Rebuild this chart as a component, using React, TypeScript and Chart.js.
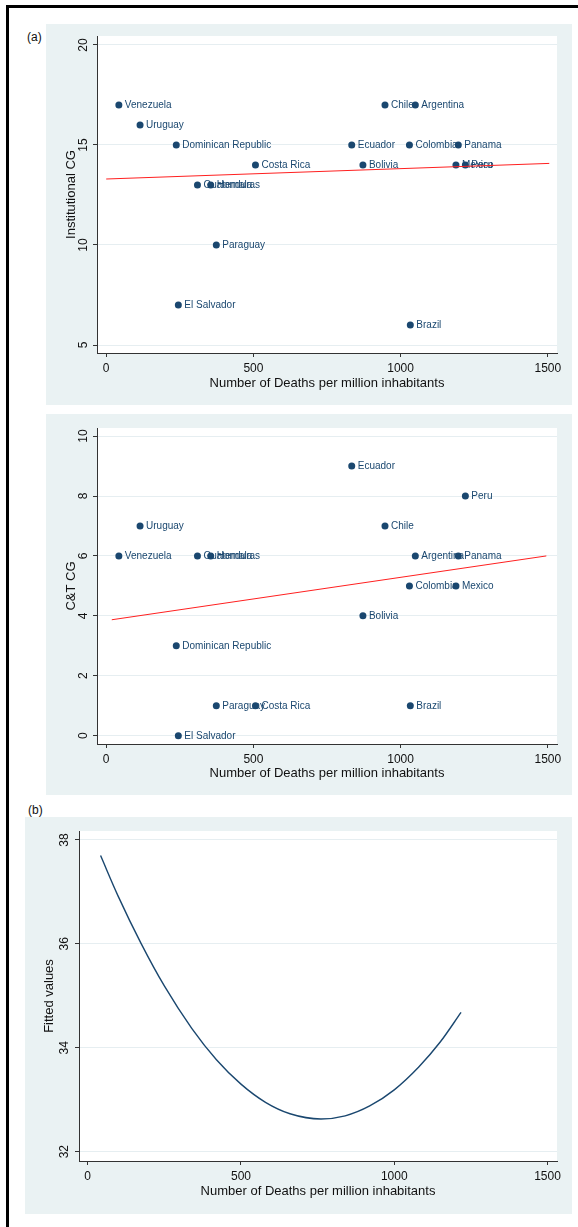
import React, { useEffect, useRef } from "react";
import { Chart, registerables } from "chart.js";

Chart.register(...registerables);

// ---------- data ----------
const countries = [
  "Venezuela", "Uruguay", "Dominican Republic", "El Salvador", "Guatemala", "Honduras",
  "Paraguay", "Costa Rica", "Ecuador", "Bolivia", "Chile", "Colombia", "Brazil",
  "Argentina", "Mexico", "Panama", "Peru",
];
const deaths = [43, 115, 238, 245, 310, 355, 374, 507, 834, 872, 947, 1030, 1033, 1050, 1188, 1196, 1220];
const institutionalCG = [17, 16, 15, 7, 13, 13, 10, 14, 15, 14, 17, 15, 6, 17, 14, 15, 14];
const ctCG = [6, 7, 3, 0, 6, 6, 1, 1, 9, 4, 7, 5, 1, 6, 5, 6, 8];

const instFitX = [0, 1505];
const instFitY = [13.3, 14.08];
const ctFitX = [19, 1495];
const ctFitY = [3.87, 6.0];

const fittedX = [42, 100, 174, 250, 340, 420, 500, 580, 660, 761, 840, 920, 1000, 1080, 1150, 1218];
const fittedY = [37.7, 36.91, 36.01, 35.19, 34.37, 33.77, 33.3, 32.95, 32.73, 32.63, 32.69, 32.88, 33.19, 33.63, 34.11, 34.68];

const xTicks = [0, 500, 1000, 1500];
const instTicks = [5, 10, 15, 20];
const ctTicks = [0, 2, 4, 6, 8, 10];
const fittedTicks = [32, 34, 36, 38];

const xTitle = "Number of Deaths per million inhabitants";

// ---------- styles ----------
const FONT = '"Liberation Sans", Arial, Helvetica, sans-serif';
const NAVY = "#1a476f";
const BG = "#eaf2f3";
const GRID = "#e6eef1";
const AXIS = "#333333";

type PanelCfg = {
  width: number;
  height: number;
  padding: { left: number; top: number; right: number; bottom: number };
  xMin: number;
  xMax: number;
  yMin: number;
  yMax: number;
  yTicks: number[];
  yTitle: string;
  yTickOff: number;
  yTitleOff: number;
  xTickOff: number;
  xTitleOff: number;
  datasets: any[];
  labels?: string[];
};

function buildChart(canvas: HTMLCanvasElement, cfg: PanelCfg) {
  const areaPlugin = {
    id: "plotArea",
    beforeDraw(chart: any) {
      const { ctx, chartArea: a } = chart;
      ctx.save();
      ctx.fillStyle = "#ffffff";
      ctx.fillRect(a.left, a.top, a.right - a.left, a.bottom - a.top);
      ctx.restore();
    },
  };

  const pointLabelPlugin = {
    id: "pointLabels",
    beforeDatasetsDraw(chart: any) {
      if (!cfg.labels) return;
      const { ctx } = chart;
      const meta = chart.getDatasetMeta(0);
      ctx.save();
      ctx.font = `10px ${FONT}`;
      ctx.fillStyle = NAVY;
      ctx.textAlign = "left";
      ctx.textBaseline = "middle";
      meta.data.forEach((el: any, i: number) => {
        ctx.fillText(cfg.labels![i], el.x + 6, el.y + 0.5);
      });
      ctx.restore();
    },
  };

  const textPlugin = {
    id: "axisTexts",
    afterDraw(chart: any) {
      const { ctx, chartArea: a } = chart;
      const xs = chart.scales.x;
      const ys = chart.scales.y;
      ctx.save();
      ctx.fillStyle = "#111111";
      // y tick labels, rotated
      ctx.font = `12px ${FONT}`;
      ctx.textAlign = "center";
      ctx.textBaseline = "alphabetic";
      cfg.yTicks.forEach((v) => {
        const py = ys.getPixelForValue(v);
        ctx.save();
        ctx.translate(a.left - cfg.yTickOff, py);
        ctx.rotate(-Math.PI / 2);
        ctx.fillText(String(v), 0, 0);
        ctx.restore();
      });
      // y title
      ctx.font = `13px ${FONT}`;
      ctx.save();
      ctx.translate(a.left - cfg.yTitleOff, (a.top + a.bottom) / 2);
      ctx.rotate(-Math.PI / 2);
      ctx.fillText(cfg.yTitle, 0, 0);
      ctx.restore();
      // x tick labels
      ctx.font = `12px ${FONT}`;
      xTicks.forEach((v) => {
        const px = xs.getPixelForValue(v);
        ctx.fillText(String(v), px, a.bottom + cfg.xTickOff);
      });
      // x title
      ctx.font = `13px ${FONT}`;
      ctx.fillText(xTitle, (a.left + a.right) / 2, a.bottom + cfg.xTitleOff);
      ctx.restore();
    },
  };

  return new Chart(canvas, {
    type: "scatter",
    data: { datasets: cfg.datasets },
    options: {
      animation: false,
      responsive: false,
      maintainAspectRatio: false,
      events: [],
      layout: { padding: cfg.padding, autoPadding: false },
      plugins: {
        legend: { display: false },
        tooltip: { enabled: false },
        title: { display: false },
      },
      scales: {
        x: {
          type: "linear",
          min: cfg.xMin,
          max: cfg.xMax,
          afterBuildTicks: (s: any) => {
            s.ticks = xTicks.map((v) => ({ value: v }));
          },
          afterFit: (s: any) => {
            s.height = 0;
          },
          ticks: { display: false },
          grid: {
            drawOnChartArea: false,
            drawTicks: true,
            tickLength: 4,
            tickColor: AXIS,
            tickWidth: 1,
          },
          border: { display: true, color: AXIS, width: 1 },
        },
        y: {
          type: "linear",
          min: cfg.yMin,
          max: cfg.yMax,
          afterBuildTicks: (s: any) => {
            s.ticks = cfg.yTicks.map((v) => ({ value: v }));
          },
          afterFit: (s: any) => {
            s.width = 0;
          },
          ticks: { display: false },
          grid: {
            drawOnChartArea: true,
            color: GRID,
            lineWidth: 1,
            drawTicks: true,
            tickLength: 4,
            tickColor: AXIS,
            tickWidth: 1,
          },
          border: { display: true, color: AXIS, width: 1 },
        },
      },
    } as any,
    plugins: [areaPlugin, pointLabelPlugin, textPlugin],
  });
}

function scatterSet(ys: number[]) {
  return {
    data: deaths.map((x, i) => ({ x, y: ys[i] })),
    backgroundColor: NAVY,
    borderColor: NAVY,
    borderWidth: 0,
    pointRadius: 3.5,
    showLine: false,
    order: 2,
  };
}

function fitSet(xs: number[], ys: number[]) {
  return {
    data: xs.map((x, i) => ({ x, y: ys[i] })),
    borderColor: "#ff2020",
    borderWidth: 1,
    pointRadius: 0,
    showLine: true,
    order: 1,
  };
}

const panel1: PanelCfg = {
  width: 526,
  height: 381,
  padding: { left: 51, top: 12, right: 15, bottom: 52 },
  xMin: -31.25,
  xMax: 1531.25,
  yMin: 4.6,
  yMax: 20.45,
  yTicks: instTicks,
  yTitle: "Institutional CG",
  yTickOff: 10,
  yTitleOff: 22,
  xTickOff: 19,
  xTitleOff: 34,
  datasets: [scatterSet(institutionalCG), fitSet(instFitX, instFitY)],
  labels: countries,
};

const panel2: PanelCfg = {
  width: 526,
  height: 381,
  padding: { left: 51, top: 14, right: 15, bottom: 51 },
  xMin: -31.25,
  xMax: 1531.25,
  yMin: -0.277,
  yMax: 10.27,
  yTicks: ctTicks,
  yTitle: "C&T CG",
  yTickOff: 10,
  yTitleOff: 22,
  xTickOff: 19,
  xTitleOff: 33,
  datasets: [scatterSet(ctCG), fitSet(ctFitX, ctFitY)],
  labels: countries,
};

const panel3: PanelCfg = {
  width: 547,
  height: 397,
  padding: { left: 54, top: 14, right: 15, bottom: 53 },
  xMin: -28.4,
  xMax: 1531,
  yMin: 31.82,
  yMax: 38.173,
  yTicks: fittedTicks,
  yTitle: "Fitted values",
  yTickOff: 11,
  yTitleOff: 26,
  xTickOff: 18.5,
  xTitleOff: 34,
  datasets: [
    {
      data: fittedX.map((x, i) => ({ x, y: fittedY[i] })),
      borderColor: NAVY,
      borderWidth: 1.4,
      pointRadius: 0,
      showLine: true,
      cubicInterpolationMode: "monotone",
    },
  ],
};

function Panel({ cfg, left, top }: { cfg: PanelCfg; left: number; top: number }) {
  const ref = useRef<HTMLCanvasElement | null>(null);
  useEffect(() => {
    if (!ref.current) return;
    const chart = buildChart(ref.current, cfg);
    return () => chart.destroy();
  }, [cfg]);
  return (
    <div
      style={{
        position: "absolute",
        left,
        top,
        width: cfg.width,
        height: cfg.height,
        background: BG,
      }}
    >
      <canvas ref={ref} width={cfg.width} height={cfg.height} style={{ display: "block" }} />
    </div>
  );
}

export default function App() {
  const labelStyle: React.CSSProperties = {
    position: "absolute",
    fontFamily: FONT,
    fontSize: 12,
    lineHeight: "12px",
    color: "#111",
  };
  return (
    <div
      style={{
        position: "fixed",
        left: 0,
        top: 0,
        width: 578,
        height: 1227,
        overflow: "hidden",
        background: "#fff",
      }}
    >
      <div
        style={{
          position: "absolute",
          left: 6,
          top: 5,
          width: 640,
          height: 1300,
          borderLeft: "3px solid #000",
          borderTop: "3px solid #000",
        }}
      />
      <div style={{ ...labelStyle, left: 27, top: 31 }}>(a)</div>
      <Panel cfg={panel1} left={46} top={24} />
      <Panel cfg={panel2} left={46} top={414} />
      <div style={{ ...labelStyle, left: 28, top: 804 }}>(b)</div>
      <Panel cfg={panel3} left={25} top={817} />
    </div>
  );
}
